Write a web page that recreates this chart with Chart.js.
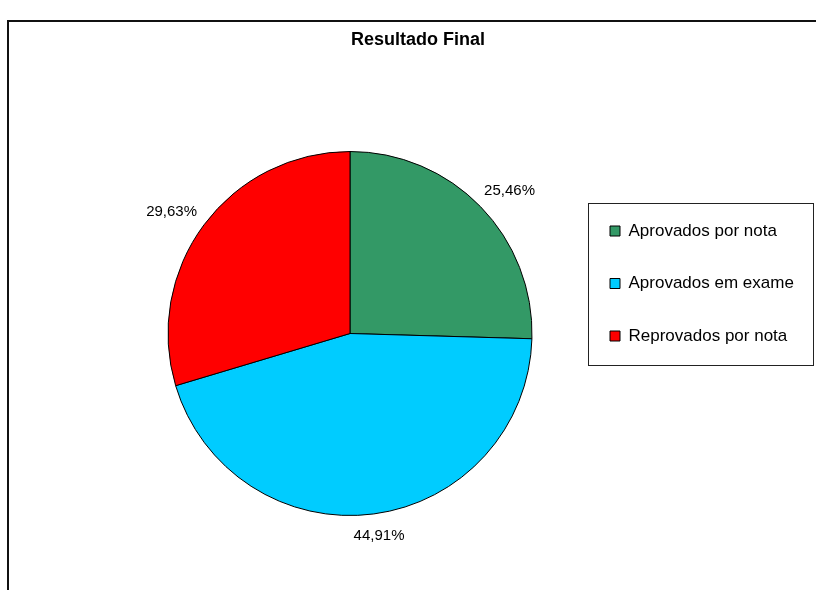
<!DOCTYPE html>
<html>
<head>
<meta charset="utf-8">
<title>Resultado Final</title>
<script src="https://cdn.jsdelivr.net/npm/chart.js@4"></script>
<style>
  html, body { margin: 0; padding: 0; background: #fff; }
  #chart { display: block; }
</style>
</head>
<body>
<canvas id="chart" width="816" height="590"></canvas>
<script>
// dados do grafico
const categorias = ["Aprovados por nota", "Aprovados em exame", "Reprovados por nota"];
const percentuais = [25.46, 44.91, 29.63];
const cores = ["#339966", "#00CCFF", "#FF0000"];
const titulo = "Resultado Final";

Chart.defaults.font.family = "'Liberation Sans', Arial, sans-serif";
Chart.defaults.color = "#000";

// moldura externa (so aparece o canto superior esquerdo)
const moldura = {
  id: "moldura",
  beforeDraw(chart) {
    const ctx = chart.ctx;
    ctx.save();
    ctx.strokeStyle = "#111";
    ctx.lineWidth = 2;
    ctx.strokeRect(8, 21, 900, 700);
    ctx.restore();
  },
};

// a legenda reserva pouco espaco na direita, mas o texto pode passar do limite
const legendaLarga = {
  id: "legendaLarga",
  afterLayout(chart) {
    const lg = chart.legend;
    lg.right = chart.width;
    lg.width = lg.right - lg.left;
  },
};

// rotulos de porcentagem fora das fatias
const rotulos = {
  id: "rotulos",
  afterDatasetsDraw(chart) {
    const ctx = chart.ctx;
    const meta = chart.getDatasetMeta(0);
    ctx.save();
    ctx.font = "15px 'Liberation Sans', Arial, sans-serif";
    ctx.fillStyle = "#000";
    ctx.textAlign = "center";
    ctx.textBaseline = "middle";
    meta.data.forEach((arc, i) => {
      const texto = percentuais[i].toFixed(2).replace(".", ",") + "%";
      const meio = (arc.startAngle + arc.endAngle) / 2;
      const w = ctx.measureText(texto).width;
      const h = 14;
      const dist = arc.outerRadius + 15;
      const cx = arc.x + Math.cos(meio) * (dist + w / 2);
      const cy = arc.y + Math.sin(meio) * (dist + h / 2);
      ctx.fillText(texto, cx, cy);
    });
    ctx.restore();
  },
};

// caixa em volta da legenda
const caixaLegenda = {
  id: "caixaLegenda",
  afterDraw(chart) {
    const lg = chart.legend;
    const pad = lg.options.labels.padding;
    const itemH = lg.options.labels.font.size;
    const x0 = lg.left + pad;
    const y0 = lg.top + lg._computeTitleHeight() + pad + itemH / 2;
    const ultimo = y0 + (categorias.length - 1) * (itemH + pad);
    const ctx = chart.ctx;
    ctx.save();
    ctx.strokeStyle = "#222";
    ctx.lineWidth = 1;
    const topo = Math.round(y0 - 28);
    ctx.strokeRect(Math.round(x0 - 22) + 0.5, topo + 0.5, 225, Math.round(ultimo + 29) - topo);
    ctx.restore();
  },
};

new Chart(document.getElementById("chart"), {
  type: "pie",
  data: {
    labels: categorias,
    datasets: [
      {
        data: percentuais,
        backgroundColor: cores,
        borderColor: "#000",
        borderWidth: 1,
      },
    ],
  },
  options: {
    responsive: false,
    animation: false,
    devicePixelRatio: 1,
    layout: {
      padding: { left: 125.5, right: 105.5, top: 0, bottom: 74 },
    },
    plugins: {
      title: {
        display: true,
        text: titulo,
        color: "#000",
        font: { size: 18, weight: "bold" },
        padding: { top: 29.7, bottom: 99.7 },
      },
      legend: {
        position: "right",
        align: "start",
        fullSize: false,
        maxWidth: 136,
        title: {
          display: true,
          text: "",
          font: { size: 10, lineHeight: 1 },
          padding: { top: 26, bottom: 0 },
        },
        labels: {
          boxWidth: 10,
          boxHeight: 10,
          padding: 35.5,
          color: "#000",
          font: { size: 17 },
        },
      },
      tooltip: { enabled: false },
    },
  },
  plugins: [moldura, legendaLarga, rotulos, caixaLegenda],
});
</script>
</body>
</html>
